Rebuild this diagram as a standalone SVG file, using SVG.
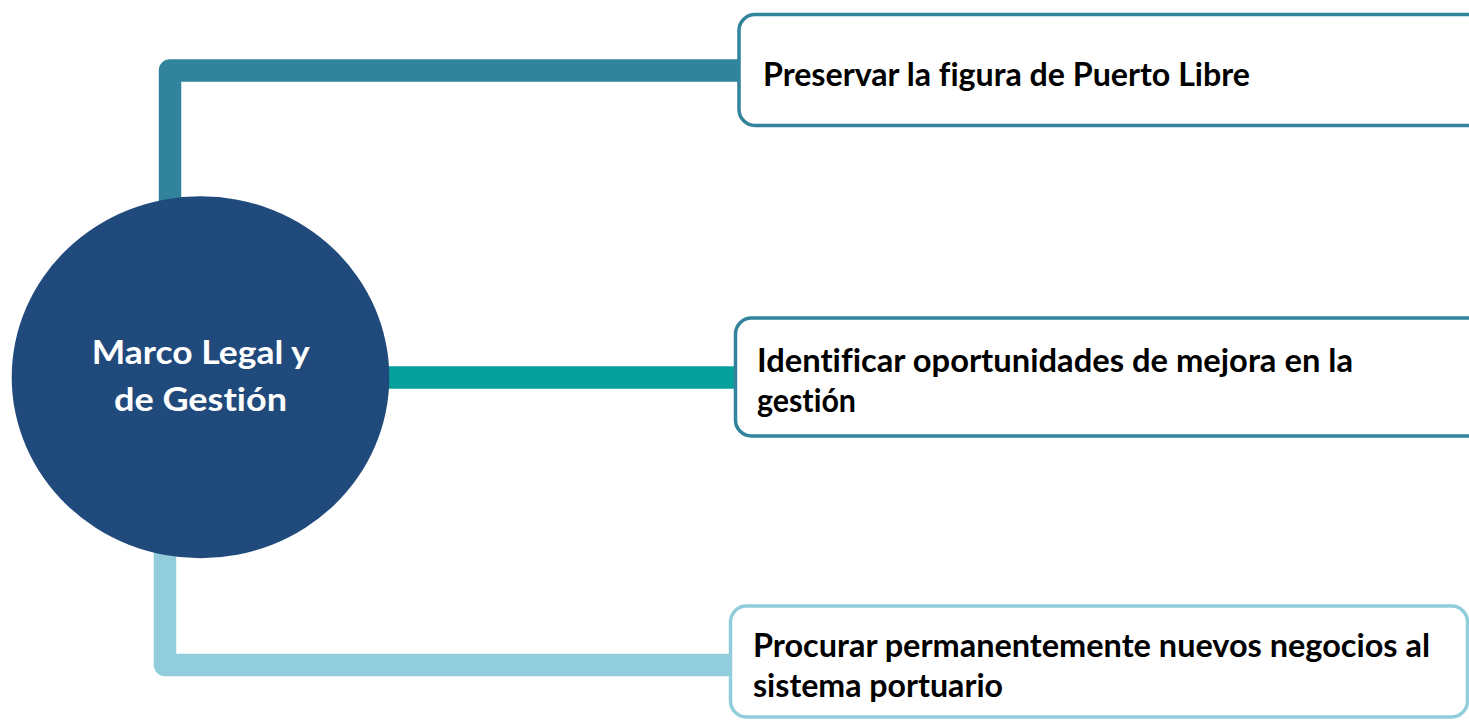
<svg xmlns="http://www.w3.org/2000/svg" width="1469" height="721" viewBox="0 0 1469 721">
  <style>
    .conn { fill: none; stroke-width: 22.5; stroke-linejoin: round; stroke-linecap: butt; }
    .box { fill: #ffffff; stroke-width: 3.5; }
    .lbl { font-family: Lato, "Open Sans", "Liberation Sans", sans-serif; font-weight: bold; font-size: 31.5px; fill: #000000; font-variant-ligatures: none; font-feature-settings: "liga" 0, "clig" 0, "dlig" 0; }
    .ctr { font-family: Lato, "Open Sans", "Liberation Sans", sans-serif; font-weight: bold; font-size: 32px; fill: #ffffff; font-variant-ligatures: none; font-feature-settings: "liga" 0, "clig" 0, "dlig" 0; }
  </style>
  <rect width="1469" height="721" fill="#ffffff"/>
  <g id="connectors">
    <path class="conn" stroke="#31849B" d="M742,70.5 H170 V260"/>
    <path class="conn" stroke="#05A09B" d="M370,377.5 H738"/>
    <path class="conn" stroke="#92CDDC" d="M165,500 V665 H733"/>
  </g>
  <g id="node-center">
    <ellipse cx="200.5" cy="377.2" rx="188.8" ry="181" fill="#214A7C"/>
    <text class="ctr" x="91.7" y="364" textLength="218" lengthAdjust="spacingAndGlyphs">Marco Legal y</text>
    <text class="ctr" x="114" y="410.7" textLength="173" lengthAdjust="spacingAndGlyphs">de Gestión</text>
  </g>
  <g id="node-1">
    <rect class="box" x="739" y="14.5" width="760" height="111" rx="16" stroke="#31849B"/>
    <text class="lbl" x="763" y="86" textLength="487" lengthAdjust="spacingAndGlyphs">Preservar la figura de Puerto Libre</text>
  </g>
  <g id="node-2">
    <rect class="box" x="735.5" y="318" width="760" height="118" rx="16" stroke="#31849B"/>
    <text class="lbl" x="757" y="372" textLength="596" lengthAdjust="spacingAndGlyphs">Identificar oportunidades de mejora en la</text>
    <text class="lbl" x="757" y="412" textLength="99" lengthAdjust="spacingAndGlyphs">gestión</text>
  </g>
  <g id="node-3">
    <rect class="box" x="730.5" y="606" width="737" height="111" rx="16" stroke="#92CDDC"/>
    <text class="lbl" x="753" y="657" textLength="677" lengthAdjust="spacingAndGlyphs">Procurar permanentemente nuevos negocios al</text>
    <text class="lbl" x="753" y="697" textLength="250" lengthAdjust="spacingAndGlyphs">sistema portuario</text>
  </g>
</svg>
